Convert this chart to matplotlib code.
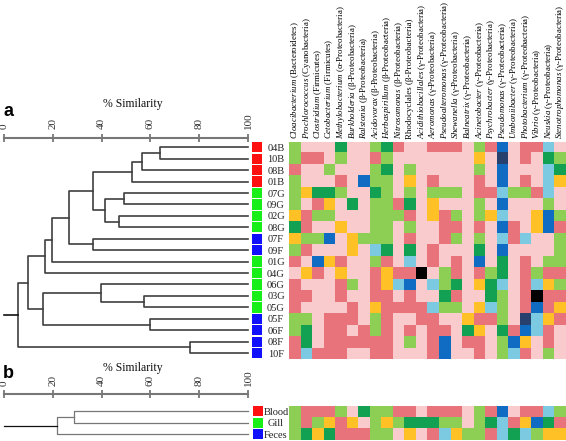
import numpy as np
import matplotlib
matplotlib.use('Agg')
import matplotlib.pyplot as plt
from matplotlib.colors import ListedColormap

plt.rcParams['font.family'] = ['Liberation Serif', 'DejaVu Serif']
plt.rcParams['mathtext.fontset'] = 'custom'
plt.rcParams['mathtext.it'] = 'Liberation Serif:italic'
plt.rcParams['mathtext.rm'] = 'Liberation Serif'

# ---- data ----
genera = ['Cloacibacterium', 'Prochlorococcus', 'Clostridium', 'Cetobacterium',
          'Methylobacterium', 'Burkholderia', 'Ralstonia', 'Acidovorax',
          'Herbaspirillum', 'Nitrosomonas', 'Rhodocyclales', 'Acidithiobacillales',
          'Aeromonas', 'Pseudoalteromonas', 'Shewanella', 'Balneatrix',
          'Acinetobacter', 'Psychrobacter', 'Pseudomonas', 'Umboniibacter',
          'Photobacterium', 'Vibrio', 'Neuskia', 'Stenotrophomonas']
upright = ['Rhodocyclales']
phyla = ['Bacteroidetes', 'Cyanobacteria', 'Firmicutes', 'Firmicutes',
         'α-Proteobacteria', 'β-Proteobacteria', 'β-Proteobacteria', 'β-Proteobacteria',
         'β-Proteobacteria', 'β-Proteobacteria', 'β-Proteobacteria', 'γ-Proteobacteria',
         'γ-Proteobacteria', 'γ-Proteobacteria', 'γ-Proteobacteria', 'γ-Proteobacteria',
         'γ-Proteobacteria', 'γ-Proteobacteria', 'γ-Proteobacteria', 'γ-Proteobacteria',
         'γ-Proteobacteria', 'γ-Proteobacteria', 'γ-Proteobacteria', 'γ-Proteobacteria']

samples = ['04B', '10B', '08B', '01B', '07G', '09G', '02G', '08G', '07F', '09F',
           '01G', '04G', '06G', '03G', '05G', '05F', '06F', '08F', '10F']
# (child, child, % similarity); new nodes numbered after the leaves
merges_a = [(0, 1, 63.9), (19, 2, 56.6), (20, 3, 52.4), (4, 5, 49.1), (6, 7, 47.3),
            (22, 23, 41.3), (21, 24, 36.3), (8, 9, 36.3), (25, 26, 26.7), (27, 10, 19.8),
            (28, 11, 16.6), (13, 14, 57.3), (12, 30, 39.7), (15, 16, 60.0), (31, 32, 16.1),
            (29, 33, 9.7), (17, 18, 76.1), (34, 35, 5.6)]

cells_a = [
    'LG P P P DG P P LG DG S P P S S S P LG S DB P S S LB P',
    'LG S S P LG P P S LG P P P P P P P O P NV P S P DG LG',
    'S P P LG P P P LG DG P LG P P P P P LG P DB P P P LB DG',
    'LG P P P S P DB LG LG P O P S P P P S P DB P S P LB O',
    'LG O DG DG LG P P DG LG P LG P LG LG LG P S S LB LG LG S LB P',
    'LG P S O P DG P LG LG S DG P O P P P LG P DB P P P LG P',
    'O S LG LG P P P LG LG LG S P O S LG P LG O LB P P O DB LG',
    'DG S P P O P P LG LG P LG P P S S P S P DB S P O DB S',
    'O LG LG DB P O LG LG LG P S P P S LG P LG P LB S LB P P LG',
    'LG S P P P O P LB DG P DG P S P P P DG P DB P P P P LG',
    'S P DB O S P P LG S P LB P S P S P DB P DG P S P LG LG',
    'P O S P O P P S O S S K P LG S P S LG DG P S LG S S',
    'S P P P S LG P S O LB DB P LB LG DG P O DG LB P S LB O LG',
    'S S P P S P P S S P S P P DG S P P DG LG P S K S S',
    'S P P P P S P O S S S S LB LG LG P O LB LG P S DB S O',
    'LG LG P S S S P LG S P P S S P P O S S LG P NV LB O S',
    'LG DG P S S P S LG S P S P S S P DG O P DG S DB LB S P',
    'S DG P S S S S S S P LG P S DB P S S P LG DB O P S P',
    'S LB S S S P P S S P P P S DB P P S P LG LB S P LG P',
]

groups = ['Blood', 'Gill', 'Feces']
merges_b = [(0, 1, 28.5), (3, 2, 21.6)]
cells_b = [
    'LG S S S LG P DG LG LG S S P S S S P LG S DB P S S LB LG',
    'LG S LG O S O P LG O LG DG DG DG LG LG P LG DG LB S O DB DG S',
    'LG DG O DG S S S LG LG P O P S LB O LG LG S LB DG LB LG O O',
]

codes = ['LG', 'P', 'S', 'DG', 'O', 'DB', 'LB', 'NV', 'K']
code_colors = ['#8dce55', '#f9cbcd', '#e8737b', '#12a152', '#ffc125',
               '#0f6cc2', '#7cc9e2', '#27406e', '#000000']
group_colors = {'B': '#ff1010', 'G': '#18ef18', 'F': '#1010ff'}

W, H = 566, 441
fig = plt.figure(figsize=(W / 100, H / 100), dpi=100)


def box(left, top, width, height):
    return [left / W, 1 - (top + height) / H, width / W, height / H]


def draw_dendro(ax, n_leaves, merges, color, lw, root_color):
    pos = {i: (100.0, i) for i in range(n_leaves)}
    for k, (a, b, s) in enumerate(merges):
        (xa, ya), (xb, yb) = pos[a], pos[b]
        ax.plot([xa, s, s, xb], [ya, ya, yb, yb], color=color, lw=lw, clip_on=False)
        pos[n_leaves + k] = (s, (ya + yb) / 2)
    xr, yr = pos[n_leaves + len(merges) - 1]
    ax.plot([0, xr], [yr, yr], color=root_color, lw=lw, clip_on=False)


def style_scale(ax, title_y):
    ax.set_xlim(0, 100)
    for s in ['bottom', 'left', 'right']:
        ax.spines[s].set_visible(False)
    ax.spines['top'].set_color('#777777')
    ax.spines['top'].set_linewidth(1.5)
    ax.xaxis.tick_top()
    ax.set_xticks([0, 20, 40, 60, 80, 100])
    ax.set_xticklabels(['0', '20', '40', '60', '80', '100'], rotation=90, fontsize=8,
                       color='#333333')
    ax.tick_params(axis='x', direction='inout', length=6, width=1.3, color='#777777', pad=3)
    ax.set_yticks([])
    ax.annotate('% Similarity', xy=(52.9, 1), xycoords=('data', 'axes fraction'),
                xytext=(0, title_y), textcoords='offset points',
                ha='center', va='center', fontsize=8.5, color='#111111')


def col_label(g, p):
    if g in upright:
        return '%s (%s)' % (g, p)
    return '$\\mathit{%s}$ (%s)' % (g, p)


def heatmap(ax, rows, labels, top_labels):
    cmap = ListedColormap(code_colors)
    arr = np.array([[codes.index(c) for c in r.split()] for r in rows])
    ax.imshow(arr, cmap=cmap, vmin=-0.5, vmax=len(codes) - 0.5,
              aspect='auto', interpolation='nearest')
    ax.set_yticks(range(len(labels)))
    ax.set_yticklabels(labels, ha='center', fontsize=7.5, color='#222222')
    ax.tick_params(axis='y', length=0, pad=9.6)
    if top_labels:
        ax.xaxis.tick_top()
        ax.set_xticks(range(len(genera)))
        ax.set_xticklabels([col_label(g, p) for g, p in zip(genera, phyla)],
                           rotation=90, fontsize=6.4, ha='center', va='bottom', color='black')
        ax.tick_params(axis='x', length=0, pad=2)
    else:
        ax.set_xticks([])
    for s in ax.spines.values():
        s.set_visible(False)


def group_boxes(ax, labels):
    cols = [group_colors[l[-1]] for l in labels]
    ax.barh(range(len(labels)), [1] * len(labels), height=0.9, color=cols)
    ax.set_xlim(0, 1)
    ax.set_ylim(len(labels) - 0.5, -0.5)
    ax.axis('off')


# ---- panel a ----
ax_da = fig.add_axes(box(4, 137.7, 244, 221.1))
draw_dendro(ax_da, len(samples), merges_a, '#404040', 1.2, '#111111')
ax_da.set_ylim(18.5, -0.84)
style_scale(ax_da, 24)

ax_ha = fig.add_axes(box(289.3, 141.6, 276.7, 217.2))
heatmap(ax_ha, cells_a, samples, True)

ax_ga = fig.add_axes(box(252.3, 141.6, 10, 217.2))
group_boxes(ax_ga, samples)

# ---- panel b ----
ax_db = fig.add_axes(box(4, 394, 244, 45.8))
draw_dendro(ax_db, len(groups), merges_b, '#777777', 0.9, '#111111')
ax_db.set_ylim(2.5, -1.52)
style_scale(ax_db, 19)

ax_hb = fig.add_axes(box(289.3, 405.6, 276.7, 34.2))
heatmap(ax_hb, cells_b, groups, False)

ax_gb = fig.add_axes(box(253, 405.6, 9.5, 34.2))
group_boxes(ax_gb, ['B', 'G', 'F'])

fig.text(3 / W, 1 - 112 / H, 'a', fontsize=13, fontweight='bold',
         family=['Liberation Sans', 'DejaVu Sans'], va='center')
fig.text(3 / W, 1 - 373 / H, 'b', fontsize=13, fontweight='bold',
         family=['Liberation Sans', 'DejaVu Sans'], va='center')

fig.savefig('out.png', dpi=100, facecolor='white')
